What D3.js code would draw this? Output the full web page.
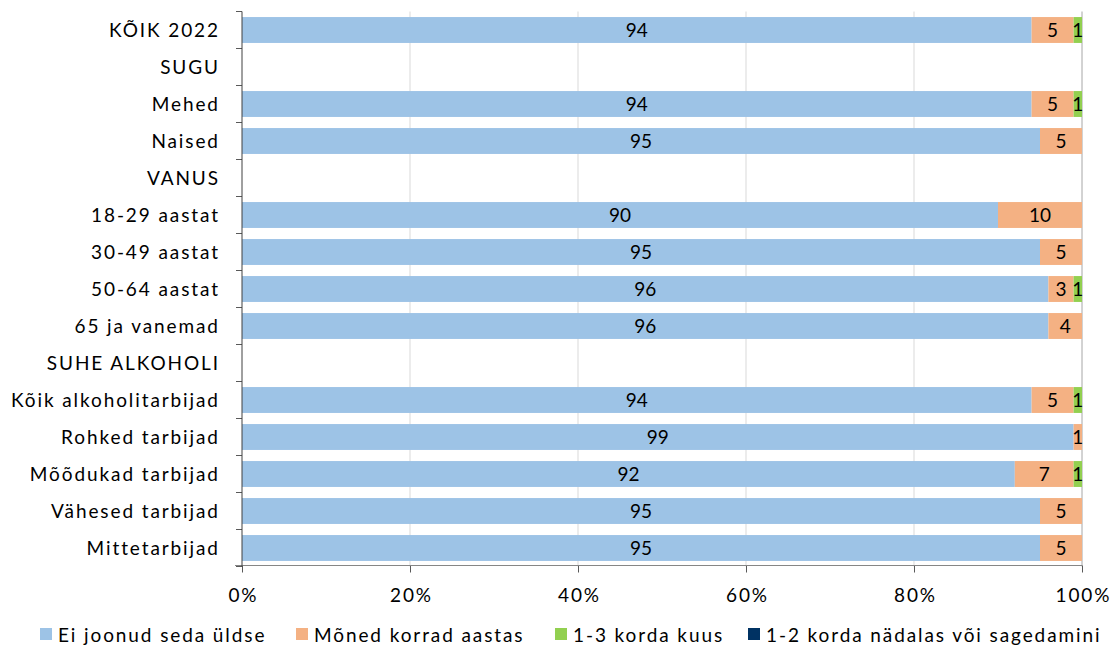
<!DOCTYPE html>
<html><head><meta charset="utf-8">
<script src="https://cdn.jsdelivr.net/npm/d3@7"></script>
<style>body{margin:0;background:#fff;} text{font-family:Lato,"Open Sans",sans-serif;}</style>
</head><body>
<svg id="c" width="1112" height="645"></svg>
<script>
const categories = ["KÕIK 2022","SUGU","Mehed","Naised","VANUS","18-29 aastat","30-49 aastat","50-64 aastat","65 ja vanemad","SUHE ALKOHOLI","Kõik alkoholitarbijad","Rohked tarbijad","Mõõdukad tarbijad","Vähesed tarbijad","Mittetarbijad"];
const seriesNames = ["Ei joonud seda üldse","Mõned korrad aastas","1-3 korda kuus","1-2 korda nädalas või sagedamini"];
const eiJoonud   = [94,null,94,95,null,90,95,96,96,null,94,99,92,95,95];
const monedKorrad= [5,null,5,5,null,10,5,3,4,null,5,1,7,5,5];
const kordaKuus  = [1,null,1,0,null,0,0,1,0,null,1,0,1,0,0];
const kordaNadal = [0,null,0,0,null,0,0,0,0,null,0,0,0,0,0];
const tickValues = [0,20,40,60,80,100];
const colors = ["#9DC3E6","#F4B183","#92D050","#003263"];

const FONT = "Lato,'Open Sans',sans-serif";
const LS = 1.9;
const svg = d3.select("#c");
const pL = 242, pR = 1082, pT = 11.5, pB = 566.5;
const x = d3.scaleLinear().domain([0,100]).range([pL,pR]);
const y = d3.scaleBand().domain(categories).range([pT,pB]).paddingInner(0.3).paddingOuter(0.15);
const step = y.step();

svg.append("g").selectAll("line").data(tickValues.slice(1)).join("line")
  .attr("x1",d=>x(d)).attr("x2",d=>x(d)).attr("y1",pT).attr("y2",pB)
  .attr("stroke",d=>d===100?"#A6A6A6":"#D9D9D9").attr("stroke-width",1);

const seriesData = [eiJoonud,monedKorrad,kordaKuus,kordaNadal];
categories.forEach((cat,i)=>{
  let cum = 0;
  seriesData.forEach((arr,s)=>{
    const v = arr[i];
    if (v==null || v===0) return;
    const x0 = x(cum), x1 = x(cum+v);
    svg.append("rect").attr("x",x0).attr("y",y(cat)).attr("width",x1-x0).attr("height",y.bandwidth()).attr("fill",colors[s]);
    svg.append("text").attr("x",(x0+x1)/2).attr("y",y(cat)+y.bandwidth()/2+7)
      .attr("text-anchor","middle").attr("font-size",19).attr("fill","#000").text(v);
    cum += v;
  });
});

const xAxis = d3.axisBottom(x).tickValues(tickValues).tickFormat(d=>d+"%").tickSize(7).tickSizeOuter(0);
const gx = svg.append("g").attr("transform",`translate(0,${pB-1})`).call(xAxis);
gx.select(".domain").remove();
gx.selectAll(".tick line").attr("stroke","#595959");
gx.selectAll(".tick text").attr("font-size",19).attr("fill","#000").attr("dy","1.4em")
  .attr("dx",LS/2).style("letter-spacing",LS+"px").style("font-family",FONT);
svg.append("line").attr("x1",pL-7).attr("x2",pR).attr("y1",pB-1).attr("y2",pB-1).attr("stroke","#868686");

const yAxis = d3.axisLeft(y).tickSize(0).tickPadding(24);
const gy = svg.append("g").attr("transform",`translate(${pL},0)`).call(yAxis);
gy.select(".domain").remove();
gy.selectAll(".tick text").attr("font-size",19).attr("fill","#000").attr("dy","0.35em")
  .attr("dx",LS).style("letter-spacing",LS+"px").style("font-family",FONT);
svg.append("g").selectAll("line").data(d3.range(categories.length+1)).join("line")
  .attr("x1",pL-6).attr("x2",pL).attr("y1",k=>pT+k*step).attr("y2",k=>pT+k*step).attr("stroke","#595959");
svg.append("line").attr("x1",pL).attr("x2",pL).attr("y1",pT).attr("y2",pB).attr("stroke","#404040");

const legX = [40,296,555,748];
const leg = svg.append("g");
seriesNames.forEach((n,i)=>{
  leg.append("rect").attr("x",legX[i]).attr("y",628).attr("width",12).attr("height",12).attr("fill",colors[i]);
  leg.append("text").attr("x",legX[i]+18).attr("y",642).attr("font-size",19).attr("fill","#000")
    .style("letter-spacing",LS+"px").text(n);
});
</script>
</body></html>
